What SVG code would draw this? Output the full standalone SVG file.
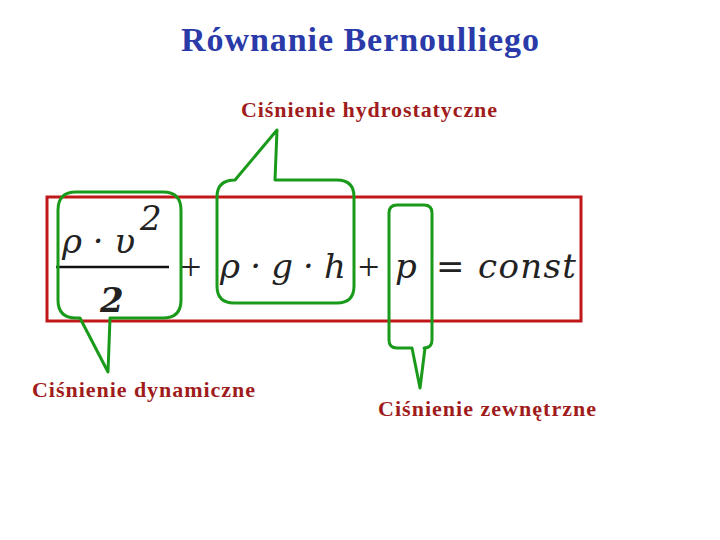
<svg xmlns="http://www.w3.org/2000/svg" width="720" height="540" viewBox="0 0 720 540">
<style>
.lbl{font-family:"Liberation Serif",serif;font-size:22px;font-weight:bold;fill:#a01c1c}
.m{font-family:"DejaVu Serif","Liberation Serif",serif;font-style:italic;font-size:34px;fill:#222}
.g{fill:none;stroke:#1a9a1a;stroke-width:3;stroke-linejoin:round}
</style>
<rect width="720" height="540" fill="#fff"/>
<text x="181" y="51" textLength="358" font-family="Liberation Serif,serif" font-size="34" font-weight="bold" fill="#2a3aa8">Równanie Bernoulliego</text>
<g id="formula">
<rect x="47" y="197" width="534" height="124" fill="none" stroke="#c01818" stroke-width="3"/>
<text class="m" x="62" y="253">ρ · υ</text>
<text class="m" x="140" y="230" font-size="22">2</text>
<line x1="56" y1="267" x2="169" y2="267" stroke="#111" stroke-width="2.5"/>
<text class="m" x="100" y="312" font-weight="bold">2</text>
<text x="180" y="280" font-family="Liberation Serif,serif" font-size="38" fill="#222">+</text>
<text class="m" x="220" y="278" textLength="126">ρ · g · h</text>
<text x="358" y="280" font-family="Liberation Serif,serif" font-size="38" fill="#222">+</text>
<text class="m" x="395" y="278">p</text>
<text class="m" x="436" y="278" textLength="140">= const</text>
</g>
<g id="bubbles">
<path class="g" d="M76,192 H163 Q181,192 181,210 V300 Q181,318 163,318 H110 L108,372 L80,318 H76 Q58,318 58,300 V210 Q58,192 76,192 Z"/>
<path class="g" d="M235,180 L277,130 L275,180 H337 Q354,180 354,197 V286 Q354,303 337,303 H234 Q217,303 217,286 V197 Q217,180 235,180 Z"/>
<path class="g" d="M397,205 H424 Q432,205 432,213 V340 Q432,348 424,348 H425 L420,388 L412,348 H397 Q389,348 389,340 V213 Q389,205 397,205 Z"/>
</g>
<text id="l1" class="lbl" x="241" y="117" textLength="256">Ciśnienie hydrostatyczne</text>
<text id="l2" class="lbl" x="32" y="397" textLength="223">Ciśnienie dynamiczne</text>
<text id="l3" class="lbl" x="378" y="416" textLength="218">Ciśnienie zewnętrzne</text>
</svg>
